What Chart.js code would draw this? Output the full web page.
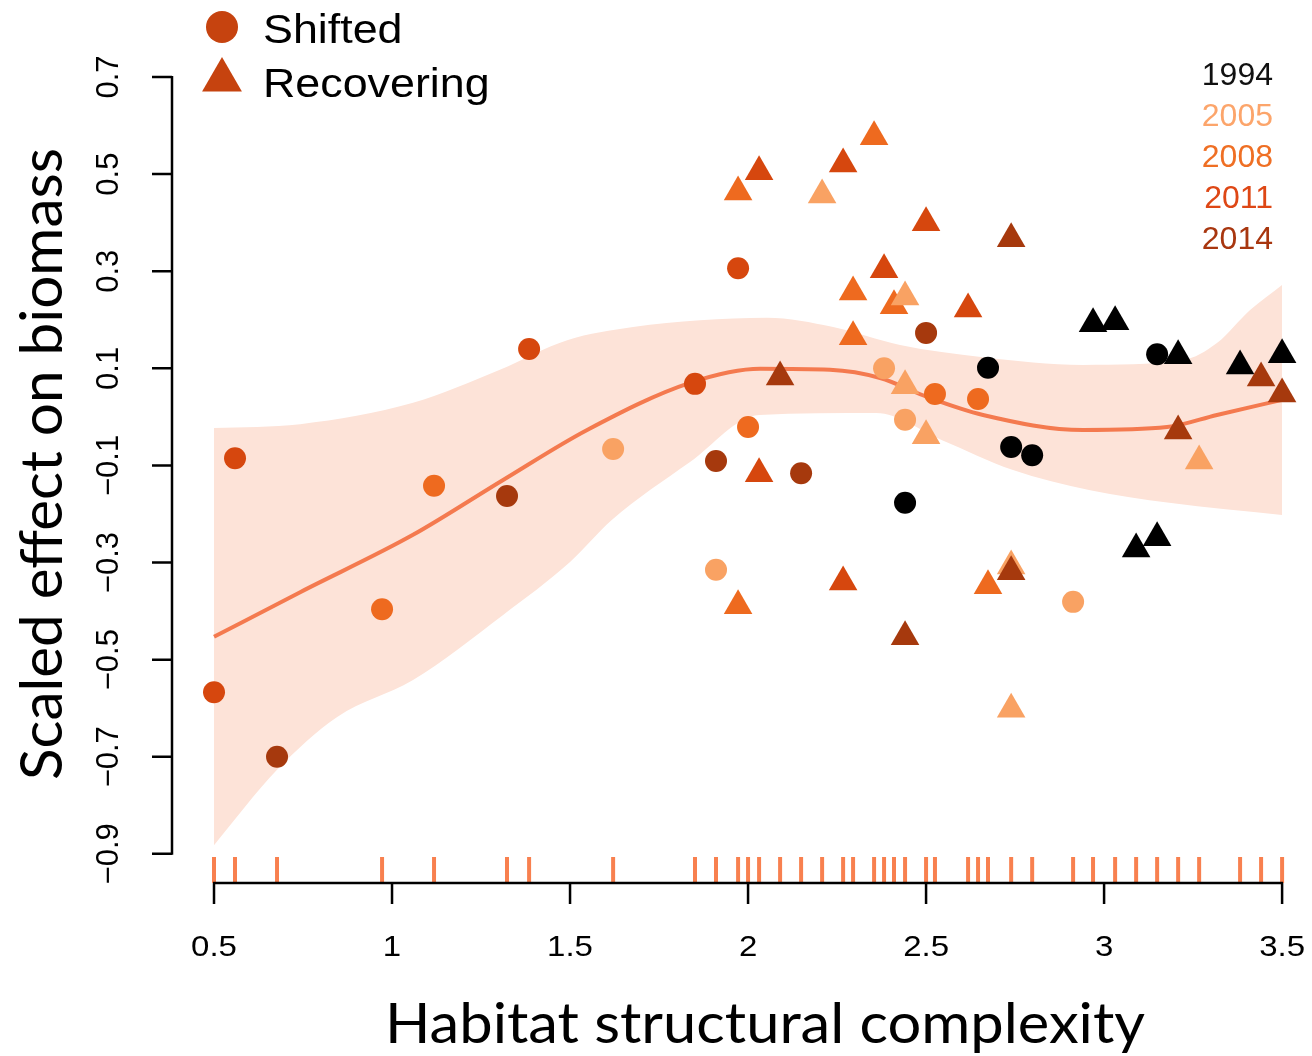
<!DOCTYPE html>
<html>
<head>
<meta charset="utf-8">
<script src="https://cdn.jsdelivr.net/npm/chart.js@4.4.0/dist/chart.umd.min.js"></script>
<style>
  html, body { margin: 0; padding: 0; background: #ffffff; }
  #wrap { width: 1312px; height: 1056px; position: relative; }
</style>
</head>
<body>
<div id="wrap"><canvas id="c"></canvas></div>
<script>
// ---------------- DATA ----------------
const shiftedX    = [0.500, 0.559, 0.677, 0.972, 1.118, 1.323, 1.385, 1.621, 1.851, 1.910, 2.000, 1.972, 1.910, 2.149, 2.382, 2.500, 2.441, 2.525, 2.646, 2.674, 2.441, 2.739, 2.798, 2.913, 3.149];
const shiftedY    = [-0.567, -0.085, -0.700, -0.396, -0.142, -0.163, 0.140, -0.066, 0.068, -0.091, -0.021, 0.306, -0.315, -0.116, 0.100, 0.173, -0.006, 0.047, 0.037, 0.101, -0.177, -0.062, -0.079, -0.381, 0.129];
const shiftedYear = [2011, 2011, 2014, 2008, 2008, 2014, 2011, 2005, 2011, 2014, 2008, 2011, 2005, 2014, 2005, 2014, 2005, 2008, 2008, 1994, 1994, 1994, 1994, 2005, 1994];

const recoveringX    = [1.972, 2.031, 2.208, 2.267, 2.354, 2.500, 2.739, 2.382, 2.295, 2.410, 2.441, 2.618, 2.295, 2.090, 2.441, 2.500, 2.031, 1.972, 2.267, 2.441, 2.674, 2.739, 2.739, 2.739, 2.969, 3.031, 3.208, 3.382, 3.500, 3.441, 3.500, 3.208, 3.267, 3.090, 3.149];
const recoveringY    = [0.463, 0.505, 0.457, 0.521, 0.577, 0.400, 0.367, 0.303, 0.257, 0.229, 0.247, 0.222, 0.165, 0.082, 0.064, -0.039, -0.117, -0.389, -0.340, -0.453, -0.348, -0.307, -0.319, -0.602, 0.192, 0.196, 0.126, 0.105, 0.128, 0.080, 0.047, -0.029, -0.091, -0.272, -0.249];
const recoveringYear = [2008, 2011, 2005, 2011, 2008, 2011, 2014, 2011, 2008, 2008, 2005, 2011, 2008, 2014, 2005, 2005, 2011, 2008, 2011, 2014, 2008, 2005, 2014, 2005, 1994, 1994, 1994, 1994, 1994, 2014, 2014, 2014, 2005, 1994, 1994];

// smooth fit and its confidence band
const fitX = [0.500, 0.742, 1.059, 1.312, 1.548, 1.837, 2.034, 2.230, 2.371, 2.503, 2.660, 2.941, 3.177, 3.317, 3.500];
const fitY = [-0.453, -0.361, -0.243, -0.130, -0.027, 0.070, 0.099, 0.097, 0.080, 0.041, 0.004, -0.027, -0.021, 0.004, 0.035];
const bandUpperX = [0.500, 0.742, 1.059, 1.303, 1.492, 1.677, 1.865, 2.053, 2.239, 2.427, 2.660, 2.941, 3.222, 3.317, 3.410, 3.500];
const bandUpperY = [-0.023, -0.015, 0.029, 0.097, 0.158, 0.185, 0.199, 0.204, 0.185, 0.148, 0.123, 0.107, 0.117, 0.152, 0.220, 0.272];
const bandLowerX = [0.500, 0.677, 0.846, 1.059, 1.312, 1.500, 1.618, 1.837, 2.031, 2.360, 2.545, 2.742, 2.961, 3.183, 3.500];
const bandLowerY = [-0.882, -0.727, -0.618, -0.542, -0.408, -0.299, -0.212, -0.093, 0.004, 0.008, -0.048, -0.109, -0.151, -0.177, -0.202];

// axes and legends
const xTicks = [0.5, 1, 1.5, 2, 2.5, 3, 3.5];
const xTickLabels = ['0.5', '1', '1.5', '2', '2.5', '3', '3.5'];
const yTicks = [0.7, 0.5, 0.3, 0.1, -0.1, -0.3, -0.5, -0.7, -0.9];
const yTickLabels = ['0.7', '0.5', '0.3', '0.1', '\u22120.1', '\u22120.3', '\u22120.5', '\u22120.7', '\u22120.9'];
const years = [1994, 2005, 2008, 2011, 2014];
const groupLabels = ['Shifted', 'Recovering'];
const xTitle = 'Habitat structural complexity';
const yTitle = 'Scaled effect on biomass';

// ---------------- STYLES ----------------
const pointColor = {1994: '#000000', 2005: '#F9A263', 2008: '#EE6A1F', 2011: '#D6470E', 2014: '#A6390D'};
const yearTextColor = {1994: '#111111', 2005: '#FCA56B', 2008: '#EF6F24', 2011: '#DE4715', 2014: '#A8360F'};
const legendMarkerColor = '#C6430F';
const fitColor = '#F47A4F';
const bandColor = '#FDE3D8';
const rugColor = '#F8804F';
const TICK_FONT = '"Liberation Sans", Arial, Helvetica, sans-serif';
const TITLE_FONT = 'Lato, "Open Sans", sans-serif';

const xy = (xs, ys) => xs.map((x, i) => ({x: x, y: ys[i]}));
const rugX = Array.from(new Set(shiftedX.concat(recoveringX))).sort((a, b) => a - b);

const Y_MIN = -0.96, Y_MAX = 0.8586;
const RUG_Y = Y_MIN + 0.0268; // centre of rug marks (just above the x axis line)

function drawText(ctx, s, x, y, o) {
  ctx.save();
  ctx.translate(x, y);
  if (o.rot) ctx.rotate(o.rot);
  if (o.sx) ctx.scale(o.sx, 1);
  ctx.font = o.font;
  ctx.fillStyle = o.color || '#000';
  ctx.textAlign = o.align || 'center';
  ctx.textBaseline = o.baseline || 'alphabetic';
  ctx.fillText(s, 0, 0);
  ctx.restore();
}
function fitScale(ctx, s, font, target) {
  ctx.save(); ctx.font = font; const w = ctx.measureText(s).width; ctx.restore();
  return target / w;
}

const rAxes = {
  id: 'rAxes',
  afterDraw(chart) {
    const ctx = chart.ctx;
    const xs = chart.scales.x, ys = chart.scales.y;
    const axisY = ys.getPixelForValue(Y_MIN);
    const axisX = xs.left;
    ctx.save();
    ctx.strokeStyle = '#000';
    ctx.lineWidth = 2.5;
    ctx.beginPath();
    // x axis
    ctx.moveTo(xs.getPixelForValue(xTicks[0]) - 1, axisY);
    ctx.lineTo(xs.getPixelForValue(xTicks[xTicks.length - 1]) + 1, axisY);
    xTicks.forEach(t => { const p = xs.getPixelForValue(t); ctx.moveTo(p, axisY); ctx.lineTo(p, axisY + 21); });
    // y axis
    ctx.moveTo(axisX, ys.getPixelForValue(yTicks[0]) - 1);
    ctx.lineTo(axisX, ys.getPixelForValue(yTicks[yTicks.length - 1]) + 1);
    yTicks.forEach(t => { const p = ys.getPixelForValue(t); ctx.moveTo(axisX, p); ctx.lineTo(axisX - 20, p); });
    ctx.stroke();
    ctx.restore();

    // tick labels
    xTicks.forEach((t, i) => drawText(ctx, xTickLabels[i], xs.getPixelForValue(t), axisY + 73,
      {font: '30px ' + TICK_FONT, sx: 1.1}));
    yTicks.forEach((t, i) => drawText(ctx, yTickLabels[i], axisX - 54, ys.getPixelForValue(t),
      {font: '31px ' + TICK_FONT, rot: -Math.PI / 2}));

    // axis titles
    const xf = '56px ' + TITLE_FONT;
    drawText(ctx, xTitle, 765, 1043, {font: xf, sx: fitScale(ctx, xTitle, xf, 760)});
    const yf = '58px ' + TITLE_FONT;
    drawText(ctx, yTitle, 62, 464, {font: yf, rot: -Math.PI / 2, sx: fitScale(ctx, yTitle, yf, 632)});

    // shape legend
    ctx.save();
    ctx.fillStyle = legendMarkerColor;
    Chart.helpers.drawPoint(ctx, {pointStyle: 'circle', radius: 16, rotation: 0, borderWidth: 0}, 222, 27);
    Chart.helpers.drawPoint(ctx, {pointStyle: 'triangle', radius: 23, rotation: 0, borderWidth: 0}, 222, 80);
    ctx.restore();
    drawText(ctx, groupLabels[0], 263, 43, {font: '40px ' + TICK_FONT, align: 'left', sx: 1.12});
    drawText(ctx, groupLabels[1], 263, 97, {font: '40px ' + TICK_FONT, align: 'left', sx: 1.12});

    // year legend
    years.forEach((yr, i) => drawText(ctx, String(yr), 1273, 85 + i * 41,
      {font: '32px ' + TICK_FONT, align: 'right', color: yearTextColor[yr]}));
  }
};

new Chart(document.getElementById('c'), {
  type: 'scatter',
  data: {
    datasets: [
      {label: 'band upper', data: xy(bandUpperX, bandUpperY), showLine: true, borderWidth: 0, borderColor: 'rgba(0,0,0,0)',
       pointRadius: 0, backgroundColor: bandColor, fill: '+1', cubicInterpolationMode: 'monotone', order: 10, clip: false},
      {label: 'band lower', data: xy(bandLowerX, bandLowerY), showLine: true, borderWidth: 0, borderColor: 'rgba(0,0,0,0)',
       pointRadius: 0, fill: false, cubicInterpolationMode: 'monotone', order: 10, clip: false},
      {label: 'fit', data: xy(fitX, fitY), showLine: true, borderColor: fitColor, borderWidth: 4,
       pointRadius: 0, fill: false, cubicInterpolationMode: 'monotone', order: 5, clip: false},
      {label: 'rug', data: rugX.map(x => ({x: x, y: RUG_Y})), pointStyle: 'line', pointRotation: 90, pointRadius: 13,
       pointBorderColor: rugColor, pointBorderWidth: 4, order: 4, clip: false},
      {label: groupLabels[0], data: xy(shiftedX, shiftedY), pointStyle: 'circle', pointRadius: 11,
       pointBackgroundColor: shiftedYear.map(y => pointColor[y]), pointBorderWidth: 0, order: 2, clip: false},
      {label: groupLabels[1], data: xy(recoveringX, recoveringY), pointStyle: 'triangle', pointRadius: 16.5,
       pointBackgroundColor: recoveringYear.map(y => pointColor[y]), pointBorderWidth: 0, order: 1, clip: false}
    ]
  },
  options: {
    responsive: true,
    maintainAspectRatio: false,
    animation: false,
    devicePixelRatio: 1,
    layout: {autoPadding: false, padding: {left: 172, right: 0, top: 0, bottom: 173}},
    scales: {
      x: {type: 'linear', min: 0.382, max: 3.584, display: false},
      y: {type: 'linear', min: Y_MIN, max: Y_MAX, display: false}
    },
    plugins: {legend: {display: false}, tooltip: {enabled: false}},
    events: []
  },
  plugins: [rAxes]
});
</script>
</body>
</html>
